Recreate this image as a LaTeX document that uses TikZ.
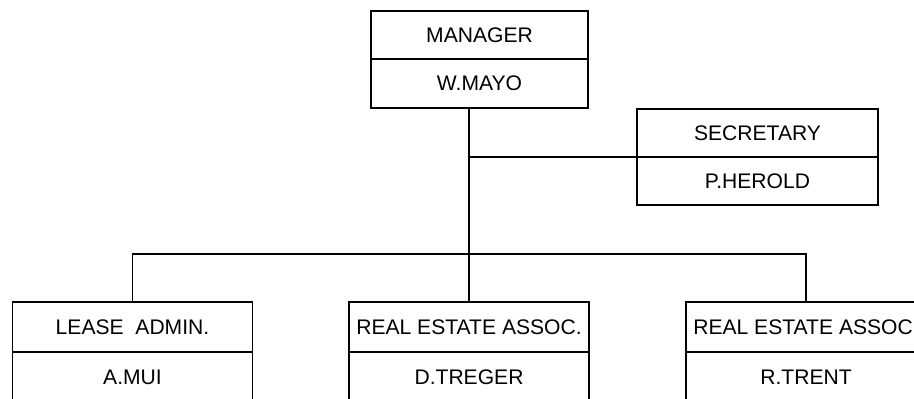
\documentclass[tikz,border=0pt]{standalone}
\usepackage{fontspec}
\setmainfont{Liberation Sans}
\usetikzlibrary{positioning}

\begin{document}
\begin{tikzpicture}[line width=1pt,
  cell/.style={draw, minimum height=0.97cm, inner sep=0pt, outer sep=0pt,
    align=center, font=\fontsize{12}{14}\selectfont},
  mgrcell/.style={cell, minimum width=4.34cm},
  seccell/.style={cell, minimum width=4.82cm, minimum height=0.96cm},
  staffcell/.style={cell, minimum width=4.8cm, minimum height=1.0cm}]
\useasboundingbox (0,0) rectangle (18.28,7.98);
\clip (0,0) rectangle (18.28,7.98);
% manager
\node[mgrcell] (mgr)     at (9.59,7.28) {MANAGER};
\node[mgrcell, below=0pt of mgr] (mgrName) {W.MAYO};
% secretary
\node[seccell] (sec)     at (15.15,5.32) {SECRETARY};
\node[seccell, below=0pt of sec] (secName) {P.HEROLD};
% staff row
\node[staffcell] (lease)  at (2.65,1.44)  {LEASE\ \ ADMIN.};
\node[staffcell, below=0pt of lease] (leaseName) {A.MUI};
\node[staffcell] (assocA) at (9.38,1.44)  {REAL ESTATE ASSOC.};
\node[staffcell, below=0pt of assocA] (assocAName) {D.TREGER};
\node[staffcell] (assocB) at (16.12,1.44) {REAL ESTATE ASSOC.};
\node[staffcell, below=0pt of assocB] (assocBName) {R.TRENT};
% connectors
\coordinate (bus) at (assocA.north |- 0,2.90);
\draw (mgrName.south -| assocA.north) -- (assocA.north);
\draw (sec.south west) -- (sec.south west -| assocA.north);
\draw (lease.north) |- (bus) -| (assocB.north);
\end{tikzpicture}
\end{document}
